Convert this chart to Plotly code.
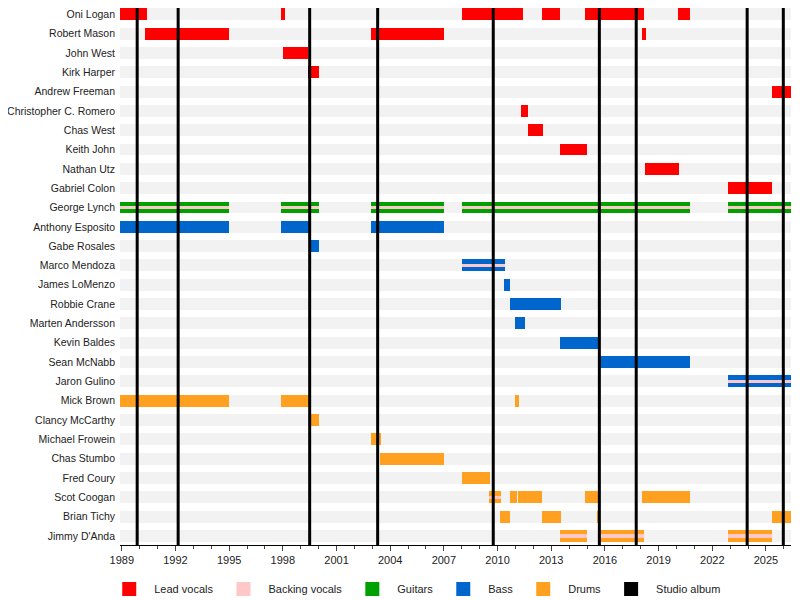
import plotly.graph_objects as go

members = ["Oni Logan", "Robert Mason", "John West", "Kirk Harper", "Andrew Freeman",
           "Christopher C. Romero", "Chas West", "Keith John", "Nathan Utz", "Gabriel Colon",
           "George Lynch", "Anthony Esposito", "Gabe Rosales", "Marco Mendoza", "James LoMenzo",
           "Robbie Crane", "Marten Andersson", "Kevin Baldes", "Sean McNabb", "Jaron Gulino",
           "Mick Brown", "Clancy McCarthy", "Michael Frowein", "Chas Stumbo", "Fred Coury",
           "Scot Coogan", "Brian Tichy", "Jimmy D'Anda"]

x_start, x_end = 1988.9, 2026.4

# (member, role, start, end, sings backing)
periods = [
    ("Oni Logan", "Lead vocals", 1988.9, 1990.4, False),
    ("Oni Logan", "Lead vocals", 1997.9, 1998.1, False),
    ("Oni Logan", "Lead vocals", 2008.0, 2011.4, False),
    ("Oni Logan", "Lead vocals", 2012.5, 2013.5, False),
    ("Oni Logan", "Lead vocals", 2014.9, 2018.2, False),
    ("Oni Logan", "Lead vocals", 2020.1, 2020.75, False),
    ("Robert Mason", "Lead vocals", 1990.3, 1995.0, False),
    ("Robert Mason", "Lead vocals", 2002.9, 2007.0, False),
    ("Robert Mason", "Lead vocals", 2018.1, 2018.3, False),
    ("John West", "Lead vocals", 1998.0, 1999.4, False),
    ("Kirk Harper", "Lead vocals", 1999.4, 2000.0, False),
    ("Andrew Freeman", "Lead vocals", 2025.35, 2026.4, False),
    ("Christopher C. Romero", "Lead vocals", 2011.3, 2011.7, False),
    ("Chas West", "Lead vocals", 2011.7, 2012.55, False),
    ("Keith John", "Lead vocals", 2013.5, 2015.0, False),
    ("Nathan Utz", "Lead vocals", 2018.25, 2020.15, False),
    ("Gabriel Colon", "Lead vocals", 2022.9, 2025.35, False),
    ("George Lynch", "Guitars", 1988.9, 1995.0, True),
    ("George Lynch", "Guitars", 1997.9, 2000.0, True),
    ("George Lynch", "Guitars", 2002.9, 2007.0, True),
    ("George Lynch", "Guitars", 2008.0, 2020.75, True),
    ("George Lynch", "Guitars", 2022.9, 2026.4, True),
    ("Anthony Esposito", "Bass", 1988.9, 1995.0, False),
    ("Anthony Esposito", "Bass", 1997.9, 1999.5, False),
    ("Anthony Esposito", "Bass", 2002.9, 2007.0, False),
    ("Gabe Rosales", "Bass", 1999.5, 2000.0, False),
    ("Marco Mendoza", "Bass", 2008.0, 2010.4, True),
    ("James LoMenzo", "Bass", 2010.35, 2010.7, False),
    ("Robbie Crane", "Bass", 2010.7, 2013.55, False),
    ("Marten Andersson", "Bass", 2011.0, 2011.55, False),
    ("Kevin Baldes", "Bass", 2013.5, 2015.7, False),
    ("Sean McNabb", "Bass", 2015.65, 2020.75, False),
    ("Jaron Gulino", "Bass", 2022.9, 2026.4, True),
    ("Mick Brown", "Drums", 1988.9, 1995.0, False),
    ("Mick Brown", "Drums", 1997.9, 1999.5, False),
    ("Mick Brown", "Drums", 2011.0, 2011.2, False),
    ("Clancy McCarthy", "Drums", 1999.5, 2000.0, False),
    ("Michael Frowein", "Drums", 2002.9, 2003.5, False),
    ("Chas Stumbo", "Drums", 2003.45, 2007.0, False),
    ("Fred Coury", "Drums", 2008.0, 2009.55, False),
    ("Scot Coogan", "Drums", 2009.5, 2010.2, True),
    ("Scot Coogan", "Drums", 2010.7, 2011.1, False),
    ("Scot Coogan", "Drums", 2011.15, 2012.5, False),
    ("Scot Coogan", "Drums", 2014.9, 2015.6, False),
    ("Scot Coogan", "Drums", 2018.1, 2020.75, False),
    ("Brian Tichy", "Drums", 2010.15, 2010.7, False),
    ("Brian Tichy", "Drums", 2012.5, 2013.55, False),
    ("Brian Tichy", "Drums", 2015.55, 2015.7, False),
    ("Brian Tichy", "Drums", 2025.35, 2026.4, False),
    ("Jimmy D'Anda", "Drums", 2013.5, 2015.0, True),
    ("Jimmy D'Anda", "Drums", 2015.7, 2018.2, True),
    ("Jimmy D'Anda", "Drums", 2022.9, 2025.35, True),
]

albums = [1989.86, 1992.15, 1999.5, 2003.3, 2009.76, 2015.69, 2017.75, 2023.95, 2025.97]

colors = {"Lead vocals": "#ff0000", "Backing vocals": "#ffc8c8", "Guitars": "#00a000",
          "Bass": "#0066cc", "Drums": "#ffa020", "Studio album": "#000000"}

fig = go.Figure()

# grey row bands
fig.add_trace(go.Bar(y=members, x=[x_end - x_start] * len(members), base=[x_start] * len(members),
                     orientation="h", width=0.62, marker=dict(color="#f2f2f2", line_width=0),
                     showlegend=False, hoverinfo="skip"))

for role in ["Lead vocals", "Guitars", "Bass", "Drums"]:
    rows = [p for p in periods if p[1] == role]
    fig.add_trace(go.Bar(y=[p[0] for p in rows], x=[p[3] - p[2] for p in rows],
                         base=[p[2] for p in rows], orientation="h", width=0.62,
                         marker=dict(color=colors[role], line_width=0), showlegend=False))

bv = [p for p in periods if p[4]]
fig.add_trace(go.Bar(y=[p[0] for p in bv], x=[p[3] - p[2] for p in bv], base=[p[2] for p in bv],
                     orientation="h", width=0.2, marker=dict(color=colors["Backing vocals"], line_width=0),
                     showlegend=False))

for a in albums:
    fig.add_vline(x=a, line=dict(color="black", width=3))

for name, c in colors.items():
    fig.add_trace(go.Scatter(x=[None], y=[None], mode="markers", name=name,
                             marker=dict(symbol="square", size=14, color=c)))

fig.update_layout(
    width=792, height=592, barmode="overlay", bargap=0,
    margin=dict(l=112, r=9, t=0, b=55, autoexpand=False),
    plot_bgcolor="white", paper_bgcolor="white",
    font=dict(family="Liberation Sans, Arial", size=11, color="#222"),
    xaxis=dict(range=[x_start, x_end], tickvals=list(range(1989, 2026, 3)), ticks="outside",
               ticklen=5, showgrid=False, showline=True, linecolor="black", zeroline=False,
               automargin=False,
               minor=dict(dtick=1, tick0=1989, ticks="outside", ticklen=3)),
    yaxis=dict(categoryorder="array", categoryarray=members, autorange=False,
               showgrid=False, ticks="", automargin=False, range=[27.46, -0.32],
               tickfont=dict(size=10.5), ticklabelstandoff=4),
    legend=dict(orientation="h", x=0.44, xanchor="center", y=-0.055, yanchor="top",
                font=dict(size=11), itemwidth=40, tracegroupgap=0),
)

fig.write_html("out.html")
